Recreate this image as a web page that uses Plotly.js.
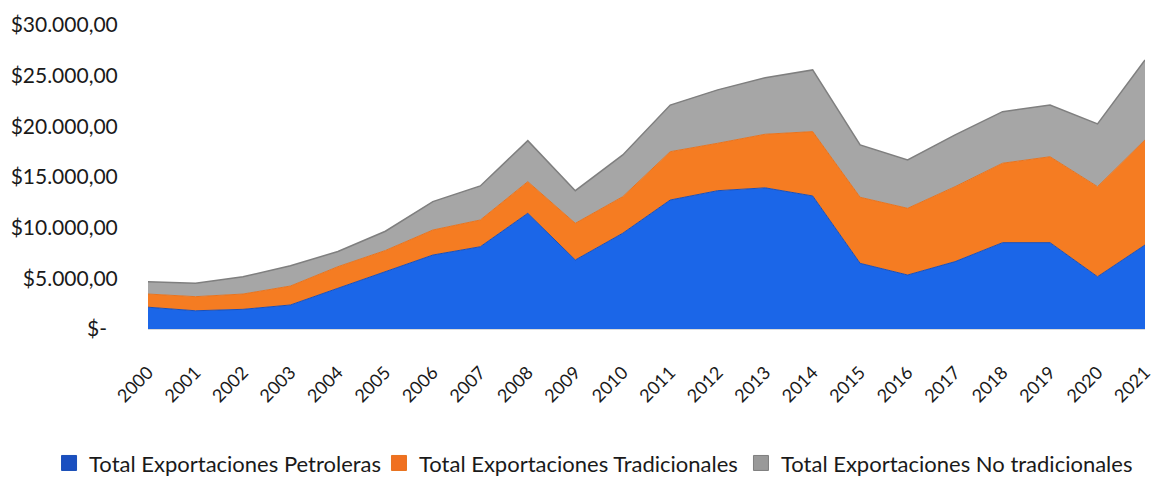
<!DOCTYPE html>
<html>
<head>
<meta charset="utf-8">
<script src="https://cdn.plot.ly/plotly-3.0.1.min.js"></script>
<style>
  html, body { margin: 0; padding: 0; background: #ffffff; }
  #chart { width: 1154px; height: 478px; }
</style>
</head>
<body>
<div id="chart"></div>
<script>
const years = [2000, 2001, 2002, 2003, 2004, 2005, 2006, 2007, 2008, 2009, 2010,
               2011, 2012, 2013, 2014, 2015, 2016, 2017, 2018, 2019, 2020, 2021];
const yearLabels = years.map(String);

const petroleras = [2150, 1800, 1940, 2370, 4020, 5660, 7300, 8120, 11420, 6810, 9450,
                    12730, 13650, 13930, 13130, 6480, 5330, 6650, 8520, 8520, 5160, 8290];
const tradicionales = [1300, 1390, 1510, 1870, 2130, 2090, 2470, 2640, 3120, 3620, 3610,
                       4770, 4680, 5290, 6350, 6520, 6580, 7400, 7840, 8480, 8890, 10370];
const noTradicionales = [1220, 1320, 1710, 2000, 1500, 1900, 2800, 3360, 4050, 3220, 4120,
                         4600, 5270, 5580, 6090, 5160, 4770, 5100, 5090, 5100, 6190, 7890];

const seriesNames = ["Total Exportaciones Petroleras",
                     "Total Exportaciones Tradicionales",
                     "Total Exportaciones No tradicionales"];
const fillColors = ["#1B66E8", "#F57C22", "#A6A6A6"];
const edgeColors = ["#1A4FB8", "#E8731E", "#7F7F7F"];
const legendColors = ["#1A4FC0", "#F07020", "#999999"];
const legendIds = ["legend", "legend2", "legend3"];
const legendX = [0.0425, 0.3284, 0.6421];

const yTickVals = [0, 5000, 10000, 15000, 20000, 25000, 30000];
const yTickText = ["$-\u00a0\u00a0", "$5.000,00", "$10.000,00", "$15.000,00",
                   "$20.000,00", "$25.000,00", "$30.000,00"];

const fontFamily = "Lato, 'Open Sans', sans-serif";
const seriesValues = [petroleras, tradicionales, noTradicionales];

const traces = [];
seriesValues.forEach((vals, i) => {
  traces.push({
    x: years, y: vals, name: seriesNames[i], type: "scatter", mode: "lines",
    stackgroup: "one", fillcolor: fillColors[i],
    line: { color: edgeColors[i], width: i === 2 ? 1.5 : 1 },
    showlegend: false
  });
});
seriesValues.forEach((vals, i) => {
  traces.push({
    x: [null], y: [null], name: seriesNames[i], type: "scatter", mode: "markers",
    marker: { symbol: "square", size: 15, color: legendColors[i],
              line: { color: edgeColors[i], width: 1 } },
    showlegend: true, legend: legendIds[i]
  });
});

function legendSpec(x) {
  return {
    orientation: "h",
    x: x, xanchor: "left", xref: "container",
    y: 0.031, yanchor: "middle", yref: "container",
    font: { family: fontFamily, size: 22, color: "#1a1a1a" },
    itemwidth: 30,
    borderwidth: 0,
    bgcolor: "rgba(0,0,0,0)"
  };
}

const layout = {
  width: 1154, height: 478,
  margin: { l: 148, r: 9, t: 25, b: 149 },
  paper_bgcolor: "#ffffff", plot_bgcolor: "#ffffff",
  font: { family: fontFamily, size: 19, color: "#1a1a1a" },
  showlegend: true,
  hovermode: false,
  xaxis: {
    range: [2000, 2021],
    tickmode: "array", tickvals: years, ticktext: yearLabels,
    tickangle: -45,
    ticklabeloverflow: "allow",
    showgrid: false, zeroline: false,
    showline: true, linecolor: "#d9d9d9", linewidth: 1,
    ticks: "outside", ticklen: 25, tickcolor: "rgba(0,0,0,0)",
    tickfont: { family: fontFamily, size: 18, color: "#1a1a1a" },
    fixedrange: true
  },
  yaxis: {
    range: [0, 30000],
    tickmode: "array", tickvals: yTickVals, ticktext: yTickText,
    showgrid: false, zeroline: false, showline: false,
    ticks: "outside", ticklen: 25, tickcolor: "rgba(0,0,0,0)",
    tickfont: { family: fontFamily, size: 21, color: "#1a1a1a" },
    fixedrange: true
  },
  legend: legendSpec(legendX[0]),
  legend2: legendSpec(legendX[1]),
  legend3: legendSpec(legendX[2])
};

Plotly.newPlot("chart", traces, layout, { displayModeBar: false, staticPlot: true });
</script>
</body>
</html>
